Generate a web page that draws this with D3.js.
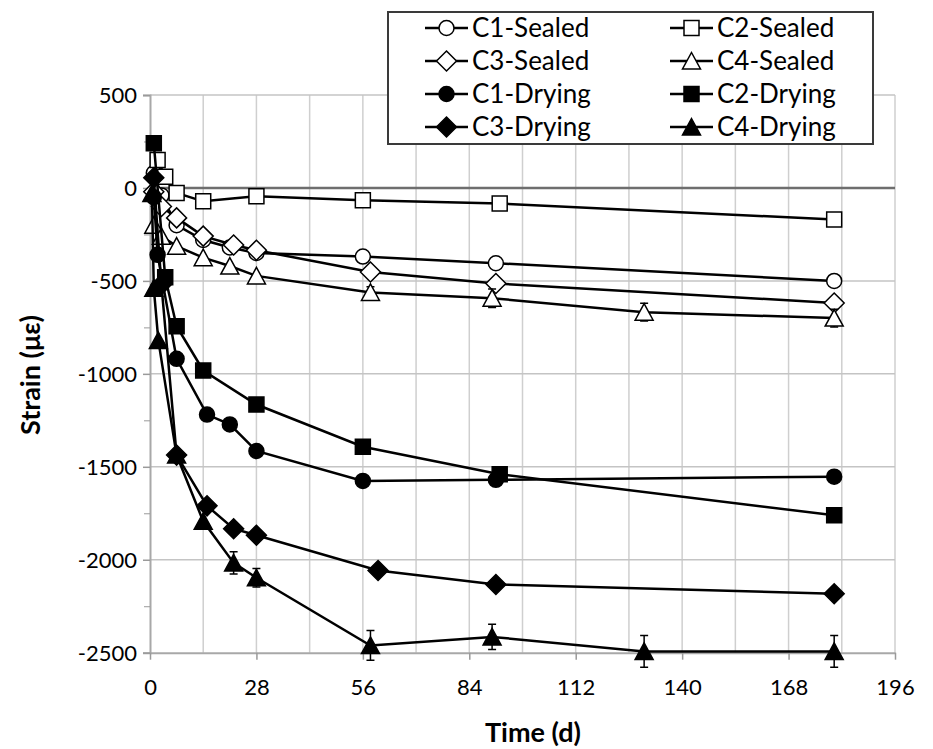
<!DOCTYPE html>
<html>
<head>
<meta charset="utf-8">
<script src="https://cdn.jsdelivr.net/npm/d3@7"></script>
<style>
    body { margin: 0; background: #fff; }
    text { font-family: Lato, "Open Sans", sans-serif; fill: #000; }
</style>
</head>
<body>
<script>

// x values (days) and strain values (µε) for every series
var c1SealedDays = [1, 3, 7, 14, 21, 28, 56, 91, 180];
var c1Sealed     = [80, -40, -200, -280, -320, -350, -369, -405, -500];

var c2SealedDays = [2, 4, 7, 14, 28, 56, 92, 180];
var c2Sealed     = [150, 60, -27, -72, -45, -66, -84, -170];

var c3SealedDays = [1, 3, 7, 14, 22, 28, 58, 91, 180];
var c3Sealed     = [-20, -100, -161, -259, -307, -335, -452, -514, -619];

var c4SealedDays = [1, 3, 7, 14, 21, 28, 58, 90, 130, 180];
var c4Sealed     = [-200, -260, -313, -375, -420, -473, -562, -593, -668, -700];
var c4SealedErr  = [0, 0, 0, 0, 0, 0, 30, 50, 48, 48];

var c1DryingDays = [1, 2, 7, 15, 21, 28, 56, 91, 180];
var c1Drying     = [-50, -360, -919, -1219, -1272, -1415, -1576, -1570, -1553];

var c2DryingDays = [1, 4, 7, 14, 28, 56, 92, 180];
var c2Drying     = [240, -480, -744, -982, -1165, -1392, -1540, -1761];

var c3DryingDays = [1, 3, 7, 15, 22, 28, 60, 91, 180];
var c3Drying     = [55, -520, -1437, -1710, -1833, -1868, -2058, -2133, -2183];

var c4DryingDays = [0.5, 1, 2.2, 7, 14, 22, 28, 58, 90, 130, 180];
var c4Drying     = [-30, -540, -821, -1437, -1793, -2017, -2097, -2461, -2415, -2493, -2493];
var c4DryingErr  = [0, 0, 0, 0, 0, 60, 50, 80, 68, 85, 85];

var xTicks = [0, 28, 56, 84, 112, 140, 168, 196];
var xGrid  = [0, 14, 28, 42, 56, 70, 84, 98, 112, 126, 140, 154, 168, 182, 196];
var yTicks = [500, 0, -500, -1000, -1500, -2000, -2500];
var yMinor = [250, -250, -750, -1250, -1750, -2250];

var series = [
    {name: "C1-Sealed", days: c1SealedDays, vals: c1Sealed, shape: "circle", filled: false},
    {name: "C2-Sealed", days: c2SealedDays, vals: c2Sealed, shape: "square", filled: false},
    {name: "C3-Sealed", days: c3SealedDays, vals: c3Sealed, shape: "diamond", filled: false},
    {name: "C4-Sealed", days: c4SealedDays, vals: c4Sealed, err: c4SealedErr, shape: "triangle", filled: false},
    {name: "C1-Drying", days: c1DryingDays, vals: c1Drying, shape: "circle", filled: true},
    {name: "C2-Drying", days: c2DryingDays, vals: c2Drying, shape: "square", filled: true},
    {name: "C3-Drying", days: c3DryingDays, vals: c3Drying, shape: "diamond", filled: true},
    {name: "C4-Drying", days: c4DryingDays, vals: c4Drying, err: c4DryingErr, shape: "triangle", filled: true}
];

var width = 933, height = 749;

var svg = d3.select("body").append("svg")
    .attr("width", width)
    .attr("height", height);

var x = d3.scaleLinear().domain([0, 196]).range([150, 895]);
var y = d3.scaleLinear().domain([-2500, 500]).range([652.7, 95]);

// marker outlines, centred on 0,0
var markerPath = function (shape) {
    if (shape === "circle") return "M-7.5,0A7.5,7.5 0 1,0 7.5,0A7.5,7.5 0 1,0 -7.5,0Z";
    if (shape === "square") return "M-7.5,-7.5H7.5V7.5H-7.5Z";
    if (shape === "diamond") return "M0,-10L10,0L0,10L-10,0Z";
    return "M0,-8.5L9,8L-9,8Z";
};

// plain hyphen for negatives, like the original
var fmt = function(d) { return String(d); };

// gridlines
svg.append("g").selectAll("line")
    .data(xGrid.slice(1))
    .enter().append("line")
    .attr("x1", function(d) { return x(d); })
    .attr("x2", function(d) { return x(d); })
    .attr("y1", y(500))
    .attr("y2", y(-2500))
    .style("stroke", "#cfcfcf")
    .style("stroke-width", 1.5);

svg.append("g").selectAll("line")
    .data(yTicks.filter(function(d) { return d !== 0 && d !== -2500; }))
    .enter().append("line")
    .attr("x1", x(0))
    .attr("x2", x(196))
    .attr("y1", function(d) { return y(d); })
    .attr("y2", function(d) { return y(d); })
    .style("stroke", "#c4c4c4")
    .style("stroke-width", 1.5);

// axes
var yAxis = d3.axisLeft(y)
    .tickValues(yTicks)
    .tickSize(7)
    .tickFormat(fmt);

var yAxisMinor = d3.axisLeft(y)
    .tickValues(yMinor)
    .tickSize(6)
    .tickFormat("");

var xAxis = d3.axisBottom(x)
    .tickValues(xTicks)
    .tickSize(7)
    .tickSizeOuter(0)
    .tickFormat(fmt);

var gy = svg.append("g")
    .attr("class", "y axis")
    .attr("transform", "translate(" + x(0) + ",0)")
    .call(yAxis);
svg.append("g")
    .attr("transform", "translate(" + x(0) + ",0)")
    .call(yAxisMinor)
    .select(".domain").remove();

var gx = svg.append("g")
    .attr("class", "x axis")
    .attr("transform", "translate(0," + y(-2500) + ")")
    .call(xAxis);

svg.selectAll(".axis path, .axis line")
    .style("stroke", "#9a9a9a")
    .style("stroke-width", 1.5);
svg.selectAll(".axis .domain").style("stroke", "#a8a8a8").style("stroke-width", 2);
svg.selectAll(".axis text").style("font-size", "22px").style("font-family", "Lato, sans-serif");
gy.selectAll("text").attr("x", -13).attr("dy", "0.34em");
gx.selectAll("text").attr("y", 27);
svg.selectAll("g line").filter(function() { return !this.style.stroke; }).style("stroke", "#9a9a9a");

// zero line
svg.append("line")
    .attr("x1", x(0))
    .attr("x2", x(196))
    .attr("y1", y(0))
    .attr("y2", y(0))
    .style("stroke", "#6e6e6e")
    .style("stroke-width", 2.5);

// axis titles
svg.append("text")
    .attr("transform", "translate(40," + 375 + ") rotate(-90)")
    .attr("text-anchor", "middle")
    .style("font-size", "27px")
    .style("font-weight", "bold")
    .text("Strain (με)");

svg.append("text")
    .attr("x", 533)
    .attr("y", 742)
    .attr("text-anchor", "middle")
    .style("font-size", "27px")
    .style("font-weight", "bold")
    .text("Time (d)");

// series
var line = d3.line()
    .x(function(d) { return x(d[0]); })
    .y(function(d) { return y(d[1]); });

series.forEach(function (s) {
    var pts = s.days.map(function(d, i) { return [d, s.vals[i]]; });
    var g = svg.append("g");

    g.append("path")
        .attr("d", line(pts))
        .style("stroke", "#000")
        .style("stroke-width", 2.5)
        .style("fill", "none");

    if (s.err) {
        var eb = pts.map(function(p, i) { return [p[0], p[1], s.err[i]]; })
            .filter(function(p) { return p[2] > 0; });
        eb.forEach(function (p) {
            var cx = x(p[0]), top = y(p[1] + p[2]), bot = y(p[1] - p[2]);
            g.append("path")
                .attr("d", "M" + cx + "," + top + "V" + bot +
                    "M" + (cx - 4) + "," + top + "H" + (cx + 4) +
                    "M" + (cx - 4) + "," + bot + "H" + (cx + 4))
                .style("stroke", "#000")
                .style("stroke-width", 1.5)
                .style("fill", "none");
        });
    }

    g.selectAll(".mark")
        .data(pts)
        .enter().append("path")
        .attr("class", "mark")
        .attr("transform", function(d) { return "translate(" + x(d[0]) + "," + y(d[1]) + ")"; })
        .attr("d", markerPath(s.shape))
        .style("fill", s.filled ? "#000" : "#fff")
        .style("stroke", "#000")
        .style("stroke-width", 1.5);
});

// legend
var legend = svg.append("g");
legend.append("rect")
    .attr("x", 388)
    .attr("y", 12)
    .attr("width", 485)
    .attr("height", 132)
    .style("fill", "#fff")
    .style("stroke", "#3a3a3a")
    .style("stroke-width", 2);

series.forEach(function (s, i) {
    var col = i % 2, row = Math.floor(i / 2);
    var lx = col === 0 ? 425 : 670;
    var ly = 28 + row * 33;
    var item = legend.append("g").attr("transform", "translate(" + lx + "," + ly + ")");
    item.append("line")
        .attr("x1", 0).attr("x2", 43)
        .attr("y1", 0).attr("y2", 0)
        .style("stroke", "#000")
        .style("stroke-width", 2.5);
    item.append("path")
        .attr("transform", "translate(21.5,0)")
        .attr("d", markerPath(s.shape))
        .style("fill", s.filled ? "#000" : "#fff")
        .style("stroke", "#000")
        .style("stroke-width", 1.5);
    item.append("text")
        .attr("x", 47)
        .attr("dy", "0.36em")
        .style("font-size", "26px")
        .text(s.name);
});

</script>
</body>
</html>
